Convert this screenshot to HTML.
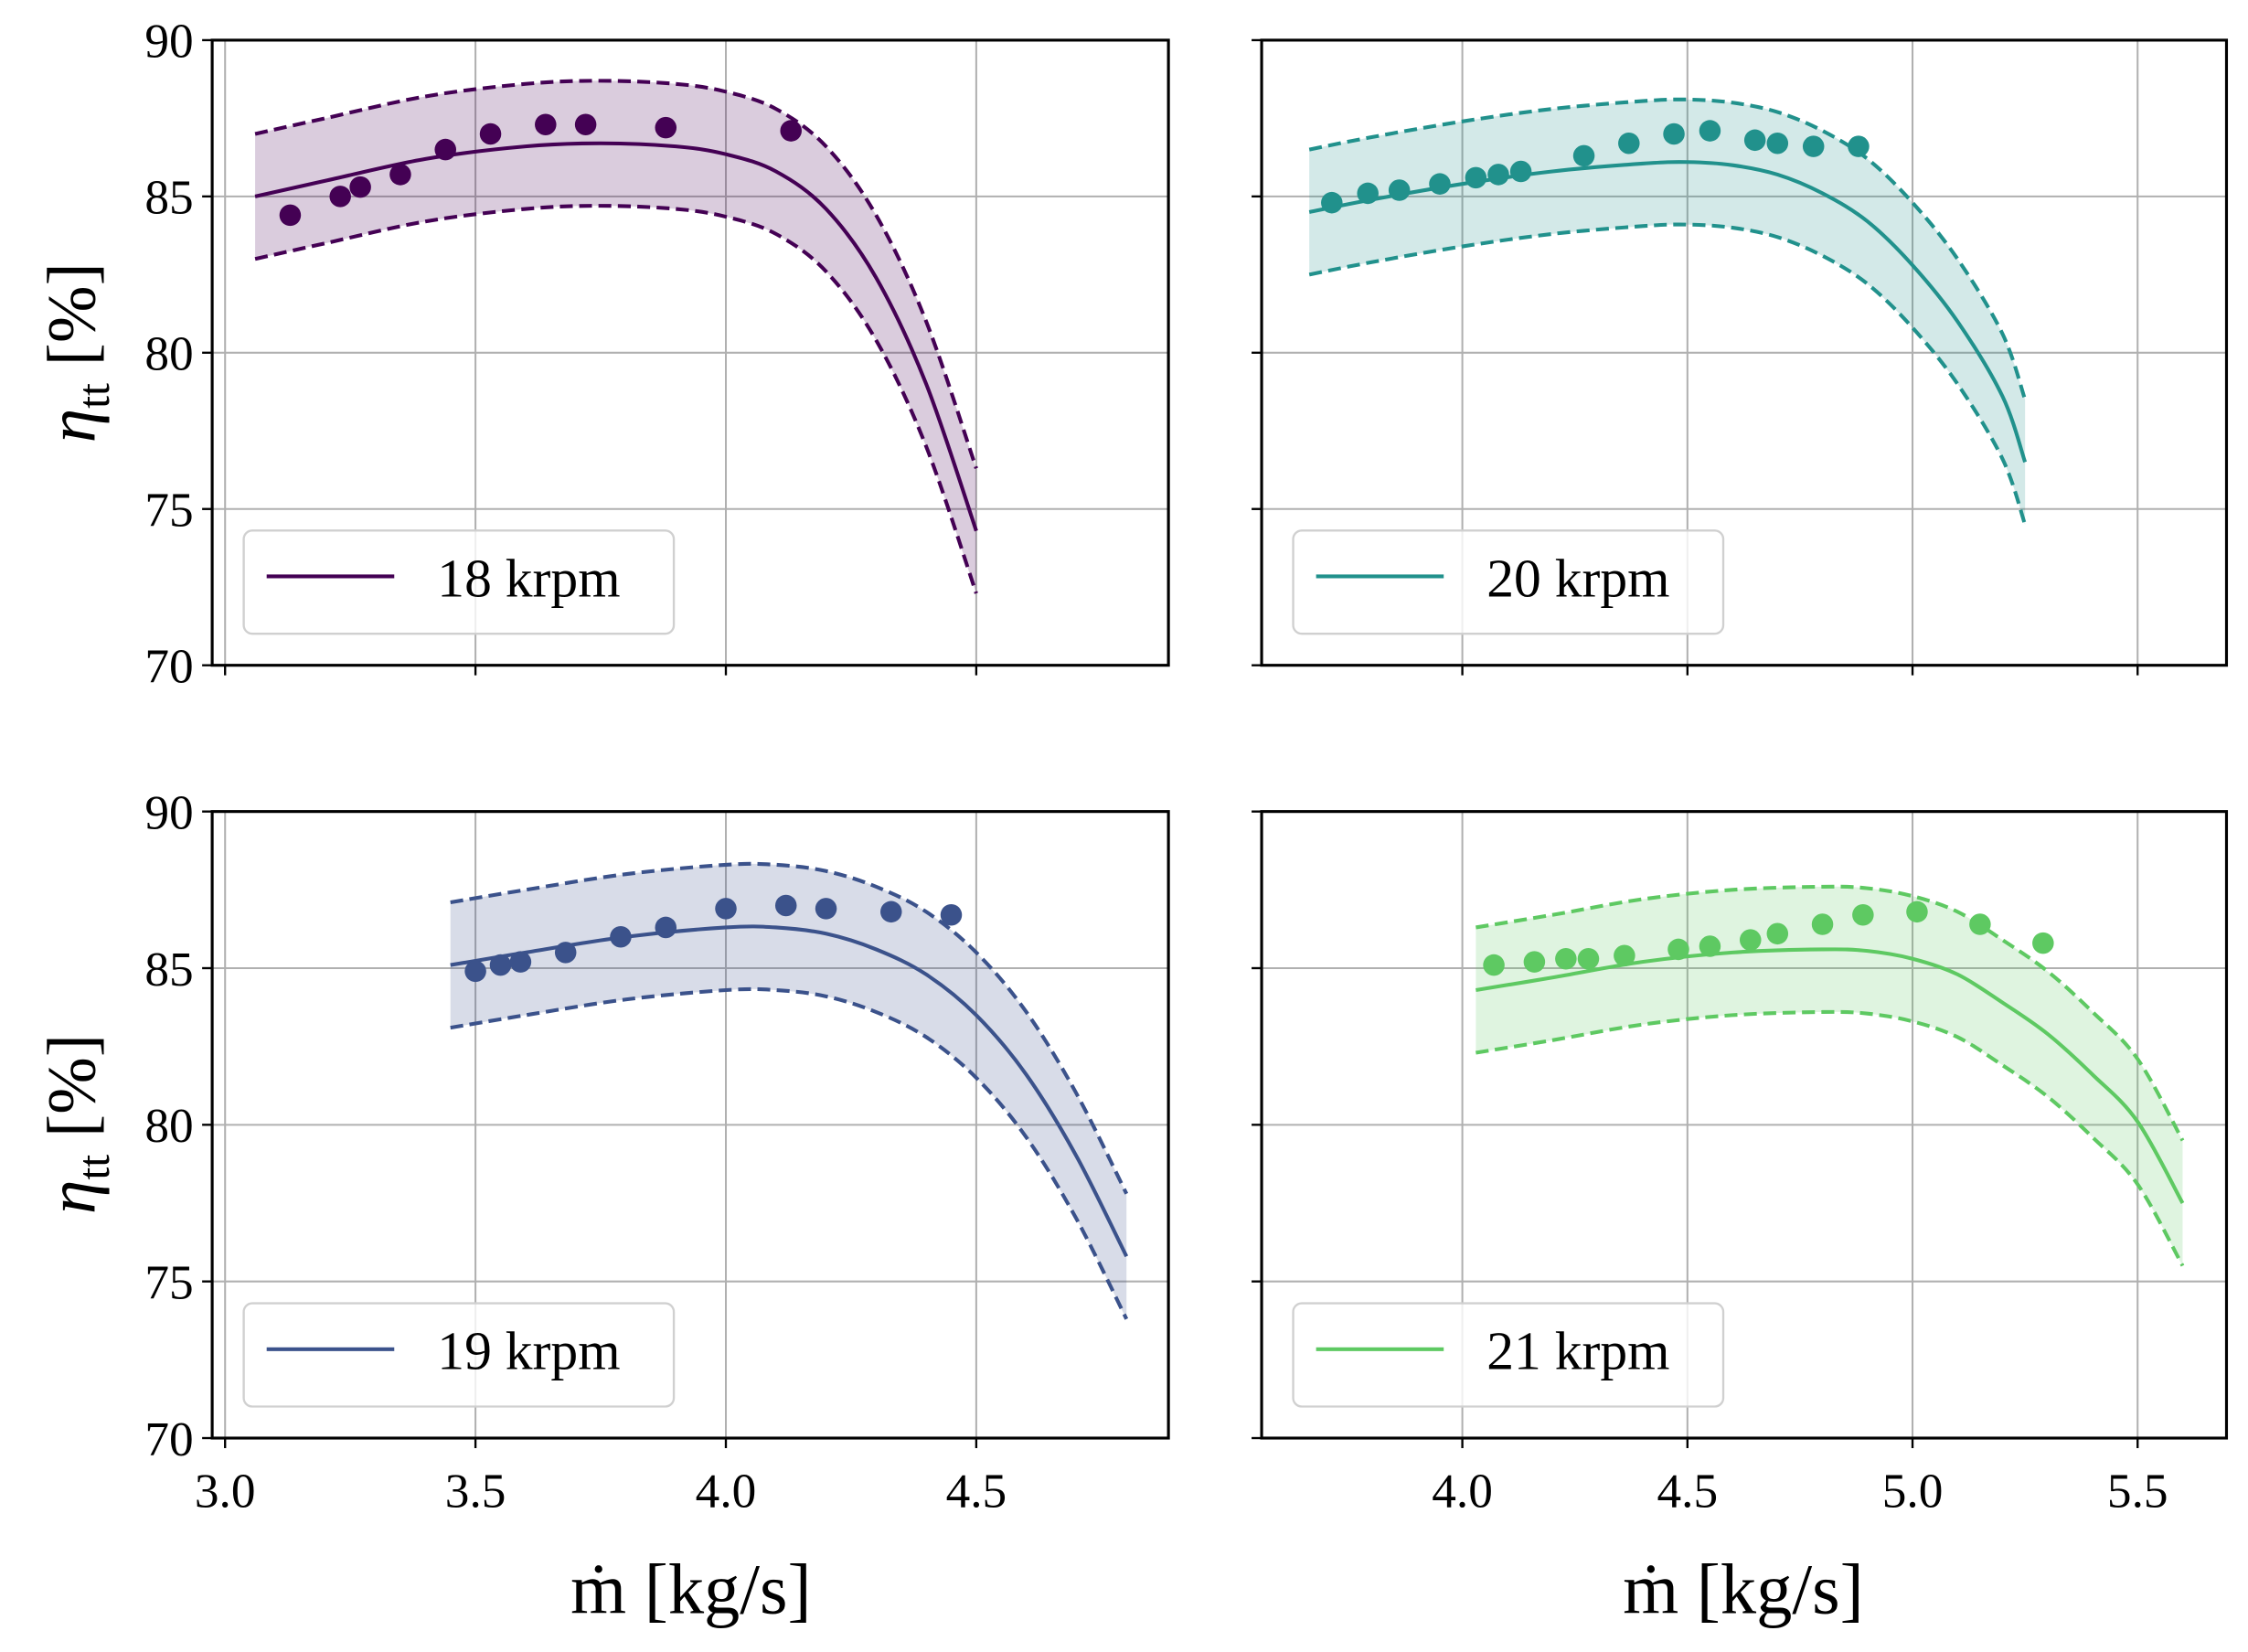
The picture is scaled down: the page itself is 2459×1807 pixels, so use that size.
<!DOCTYPE html>
<html><head><meta charset="utf-8"><style>
html,body{margin:0;padding:0;background:#fff;}
svg{display:block;font-family:"Liberation Serif","DejaVu Serif",serif;}
</style></head><body>
<svg id="fig" width="2459" height="1807" viewBox="0 0 1568 1152.2" preserveAspectRatio="none" xmlns="http://www.w3.org/2000/svg"></svg>
<script>
const xs18=[3.06,3.2,3.4,3.6,3.75,3.9,4.0,4.1,4.2,4.3,4.4,4.5];
const m18=[85.0,85.5,86.2,86.6,86.7,86.6,86.35,85.8,84.6,82.4,79.0,74.3];
const px18=[3.13,3.23,3.27,3.35,3.44,3.53,3.64,3.72,3.88,4.13];
const py18=[84.4,85.0,85.3,85.7,86.5,87.0,87.3,87.3,87.2,87.1];
const xs20=[3.66,3.8,4.0,4.2,4.4,4.5,4.6,4.7,4.8,4.9,5.0,5.1,5.2,5.25];
const m20=[84.5,84.9,85.4,85.8,86.05,86.1,86.0,85.7,85.1,84.2,82.8,81.0,78.6,76.5];
const px20=[3.71,3.79,3.86,3.95,4.03,4.08,4.13,4.27,4.37,4.47,4.55,4.65,4.7,4.78,4.88];
const py20=[84.8,85.1,85.2,85.4,85.6,85.7,85.8,86.3,86.7,87.0,87.1,86.8,86.7,86.6,86.6];
const xs19=[3.45,3.6,3.8,4.0,4.1,4.2,4.3,4.4,4.5,4.6,4.7,4.8];
const m19=[85.1,85.5,86.0,86.3,86.3,86.1,85.6,84.8,83.5,81.6,79.0,75.8];
const px19=[3.5,3.55,3.59,3.68,3.79,3.88,4.0,4.12,4.2,4.33,4.45];
const py19=[84.9,85.1,85.2,85.5,86.0,86.3,86.9,87.0,86.9,86.8,86.7];
const xs21=[4.03,4.2,4.4,4.6,4.8,4.9,5.0,5.1,5.2,5.3,5.4,5.5,5.6];
const m21=[84.3,84.7,85.2,85.5,85.6,85.55,85.3,84.8,83.9,82.9,81.6,80.1,77.5];
const px21=[4.07,4.16,4.23,4.28,4.36,4.48,4.55,4.64,4.7,4.8,4.89,5.01,5.15,5.29];
const py21=[85.1,85.2,85.3,85.3,85.4,85.6,85.7,85.9,86.1,86.4,86.7,86.8,86.4,85.8];
const band=2.0;
const yTicks=[70,75,80,85,90];
const xTicksL=[3.0,3.5,4.0,4.5];
const xTicksR=[4.0,4.5,5.0,5.5];
const NS="http://www.w3.org/2000/svg";
const svg=document.getElementById('fig');
function el(t,a,p){const e=document.createElementNS(NS,t);for(const k in a)e.setAttribute(k,a[k]);(p||svg).appendChild(e);return e;}
function smooth(pts){let d="M"+pts[0][0]+","+pts[0][1];for(let i=0;i<pts.length-1;i++){const p0=pts[Math.max(0,i-1)],p1=pts[i],p2=pts[i+1],p3=pts[Math.min(pts.length-1,i+2)];const c1=[p1[0]+(p2[0]-p0[0])/6,p1[1]+(p2[1]-p0[1])/6],c2=[p2[0]-(p3[0]-p1[0])/6,p2[1]-(p3[1]-p1[1])/6];d+=" C"+c1+" "+c2+" "+p2;}return d;}
const panels=[
 {name:'18',L:148,R:815,T:28,B:464,x0:3.0,px0:157,ppu:349.3,xs:xs18,m:m18,px:px18,py:py18,col:'#440154',fill:'rgba(68,1,84,0.2)',ylab:true,xlab:false,ticks:xTicksL},
 {name:'20',L:880,R:1553,T:28,B:464,x0:4.0,px0:1020,ppu:314,xs:xs20,m:m20,px:px20,py:py20,col:'#21918c',fill:'rgba(33,145,140,0.2)',ylab:false,xlab:false,ticks:xTicksR},
 {name:'19',L:148,R:815,T:566,B:1003,x0:3.0,px0:157,ppu:349.3,xs:xs19,m:m19,px:px19,py:py19,col:'#3b528b',fill:'rgba(59,82,139,0.2)',ylab:true,xlab:true,ticks:xTicksL},
 {name:'21',L:880,R:1553,T:566,B:1003,x0:4.0,px0:1020,ppu:314,xs:xs21,m:m21,px:px21,py:py21,col:'#5ec962',fill:'rgba(94,201,98,0.2)',ylab:false,xlab:true,ticks:xTicksR}];
panels.forEach(P=>{
 const g=el('g',{});
 
 
 const X=v=>P.px0+(v-P.x0)*P.ppu, Y=v=>P.B-(v-70)/20*(P.B-P.T);
 P.ticks.forEach(t=>{const l=el('line',{x1:X(t),x2:X(t),y1:P.T,y2:P.B,stroke:'#b0b0b0','stroke-width':1.3},g);
  const tk=el('line',{x1:X(t),x2:X(t),y1:P.B,y2:P.B+7,stroke:'#000','stroke-width':1.5},g);
  if(P.xlab){const tx=el('text',{x:X(t),y:P.B+48,'text-anchor':'middle','font-size':34},g);tx.textContent=t.toFixed(1);}});
 yTicks.forEach(t=>{const l=el('line',{x1:P.L,x2:P.R,y1:Y(t),y2:Y(t),stroke:'#b0b0b0','stroke-width':1.3},g);
  const tk=el('line',{x1:P.L-7,x2:P.L,y1:Y(t),y2:Y(t),stroke:'#000','stroke-width':1.5},g);
  if(P.ylab){const tx=el('text',{x:P.L-30,y:Y(t)+12,'text-anchor':'middle','font-size':34},g);tx.textContent=t;}});
 const up=P.xs.map((x,i)=>[X(x),Y(P.m[i]+band)]), lo=P.xs.map((x,i)=>[X(x),Y(P.m[i]-band)]), mid=P.xs.map((x,i)=>[X(x),Y(P.m[i])]);
 const loR=lo.slice().reverse();
 const f=el('path',{d:smooth(up)+" L"+loR[0]+smooth(loR).slice(1).replace(/^[^C]*/,' ')+" Z",fill:P.fill,stroke:'none'},g);
 
 [up,lo].forEach((pp,k)=>{const d=el('path',{d:smooth(pp),fill:'none',stroke:P.col,'stroke-width':2.6,'stroke-dasharray':'9,4.5'},g);});
 const ml=el('path',{d:smooth(mid),fill:'none',stroke:P.col,'stroke-width':2.6},g);
 P.px.forEach((x,i)=>{const c=el('circle',{cx:X(x),cy:Y(P.py[i]),r:7.5,fill:P.col},g);});
 const fr=el('rect',{x:P.L,y:P.T,width:P.R-P.L,height:P.B-P.T,fill:'none',stroke:'#000','stroke-width':2},g);
 const lg=el('g',{},g);
 const lx=P.L+22, ly=P.B-94;
 el('rect',{x:lx,y:ly,width:300,height:72,rx:6,fill:'rgba(255,255,255,0.8)',stroke:'#d0d0d0','stroke-width':1.5},lg);
 el('line',{x1:lx+16,x2:lx+105,y1:ly+32,y2:ly+32,stroke:P.col,'stroke-width':2.6},lg);
 const lt=el('text',{x:lx+135,y:ly+46,'font-size':38},lg);lt.textContent=P.name+' krpm';
});
function txt(s,a,n){const t=el('text',a);t.textContent=s;return t;}
[246,784].forEach((cy,i)=>{const t=el('text',{transform:`translate(66,${cy}) rotate(-90)`,'text-anchor':'middle','font-size':48});
 
 t.innerHTML='<tspan font-style="italic">η</tspan><tspan font-size="32" dy="10">tt</tspan><tspan dy="-10"> [%]</tspan>';});
txt('ṁ [kg/s]',{x:482,y:1125,'text-anchor':'middle','font-size':50},'x-axis-title');
txt('ṁ [kg/s]',{x:1216,y:1125,'text-anchor':'middle','font-size':50},'x-axis-title');
</script>
</body></html>
